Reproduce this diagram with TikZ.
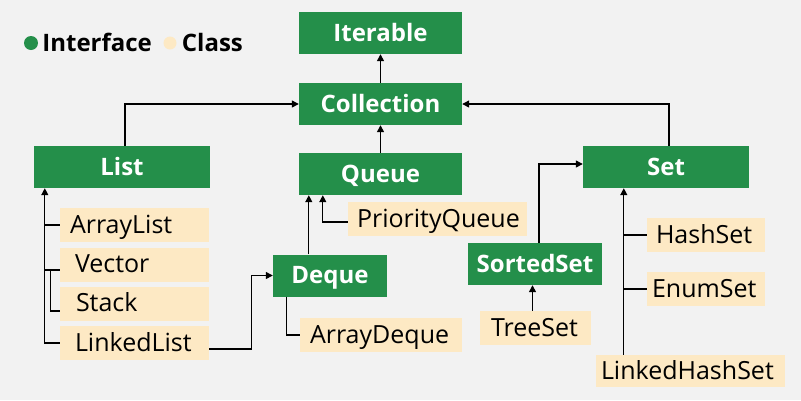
\documentclass[tikz,border=0pt]{standalone}
\usepackage{fontspec}
\setmainfont{Open Sans}
\usetikzlibrary{arrows.meta}

\definecolor{ifacegreen}{RGB}{36,143,74}
\definecolor{classbeige}{RGB}{253,233,196}
\definecolor{pagegray}{RGB}{242,242,242}

\begin{document}
\begin{tikzpicture}[x=1pt,y=-1pt,
  iface/.style={fill=ifacegreen, text=white,
    font=\fontsize{24}{28}\selectfont\bfseries,
    inner sep=0pt, minimum height=42pt, text height=20pt, text depth=4pt},
  impl/.style 2 args={fill=classbeige, text=black,
    font=\fontsize{25}{29}\selectfont,
    inner ysep=0pt, inner xsep=#1, text width=#2, align=left,
    minimum height=34pt, text height=20pt, text depth=4pt},
  keytext/.style={font=\fontsize{24}{28}\selectfont\bfseries,
    inner sep=0pt, text height=20pt, text depth=4pt, anchor=west},
  link/.style={line width=1.3pt},
  inherit/.style={link, -{Triangle[length=7pt,width=7pt]}}]

\useasboundingbox (0,0) rectangle (801,400);
\fill[pagegray] (0,0) rectangle (801,400);

\node[circle, fill=ifacegreen, minimum size=14pt, inner sep=0pt]
  (keyiface) at (31,43) {};
\node[keytext] (keyifacetxt) at ([xshift=4pt]keyiface.east) {Interface};
\node[circle, fill=classbeige, minimum size=13pt, inner sep=0pt]
  (keyclass) at (170,43) {};
\node[keytext] (keyclasstxt) at ([xshift=5pt]keyclass.east) {Class};

\node[iface, minimum width=163pt] (iter) at (380.5,33) {Iterable};
\node[iface, minimum width=163pt] (coll) at (380.5,104) {Collection};
\node[iface, minimum width=176pt] (list) at (122,167) {List};
\node[iface, minimum width=163pt] (queue) at (380.5,174) {Queue};
\node[iface, minimum width=114pt] (deque) at (330,275.5) {Deque};
\node[iface, minimum width=134pt] (sorted) at (535,264) {SortedSet};
\node[iface, minimum width=166pt] (set) at (666,167) {Set};

\node[impl={10pt}{129pt}] (alist) at (134.5,225) {ArrayList};
\node[impl={15pt}{119pt}] (vector) at (134.5,264.5) {Vector};
\node[impl={16pt}{117pt}] (stack) at (134.5,303.5) {Stack};
\node[impl={15pt}{119pt}] (llist) at (134.5,343) {LinkedList};
\node[impl={9pt}{161pt}] (pqueue) at (437.5,219) {PriorityQueue};
\node[impl={10pt}{142pt}] (adeque) at (381,335) {ArrayDeque};
\node[impl={11pt}{89pt}] (tset) at (535.5,328) {TreeSet};
\node[impl={9pt}{100pt}] (hset) at (706,235) {HashSet};
\node[impl={5pt}{108pt}] (eset) at (706,289) {EnumSet};
\node[impl={5pt}{179pt}, minimum height=32pt] (lhset) at (690.5,371) {LinkedHashSet};

\draw[inherit]
  (coll) -- (iter);
\draw[inherit]
  (queue) -- (coll);
\draw[inherit]
  ([xshift=3pt]list.north) |- (coll.west);
\draw[inherit]
  ([xshift=3pt]set.north) |- (coll.east);

\coordinate (listtrunk) at ([xshift=11pt]list.south west);
\coordinate (vecfork) at ([yshift=-5.5pt]vector.west -| listtrunk);
\draw[inherit]
  (llist.west) -| (listtrunk);
\draw[link]
  (alist.west) -- (alist.west -| listtrunk);
\draw[link]
  (vecfork) -- (vecfork -| vector.west);
\draw[link]
  ([yshift=-7.5pt]stack.west) -| ([xshift=6pt]vecfork);

\draw[inherit]
  ([yshift=-6pt]llist.east) -| ([xshift=-21pt]deque.west) -- (deque.west);
\draw[inherit]
  ([xshift=36pt]deque.north west) -- ([xshift=10pt]queue.south west);
\draw[inherit]
  ([yshift=-3pt]pqueue.west) -| ([xshift=24pt]queue.south west);
\draw[link]
  ([xshift=14pt]deque.south west) |- (adeque.west);

\draw[inherit]
  ([xshift=4pt]sorted.north) |- ([yshift=3pt]set.west);
\draw[inherit]
  ([xshift=-3pt]tset.north) -- ([xshift=-2.5pt]sorted.south);

\coordinate (settrunk) at ([xshift=41pt]set.south west);
\draw[inherit]
  (settrunk |- lhset.north) -- (settrunk);
\draw[link]
  (hset.west) -- (hset.west -| settrunk);
\draw[link]
  (eset.west) -- (eset.west -| settrunk);
\end{tikzpicture}
\end{document}
